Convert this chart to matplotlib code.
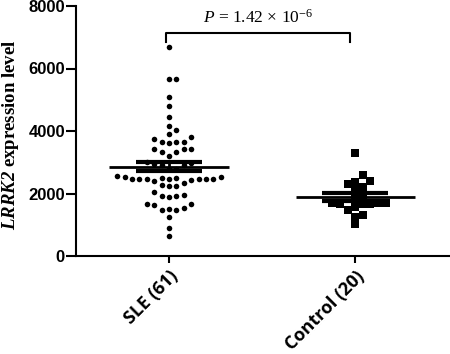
import numpy as np
import matplotlib
matplotlib.use("Agg")
import matplotlib.pyplot as plt

# LRRK2 expression values
sle = [6700, 5650, 5650, 5100, 4800, 4450, 4170, 4030, 3900, 3800, 3760,
       3660, 3640, 3610, 3650, 3410, 3320, 3410, 3340, 3410, 3200,
       3000, 2980, 2950, 2920, 2900, 2800, 2780,
       2560, 2520, 2500, 2480, 2470, 2460, 2460, 2460, 2470, 2480, 2500, 2540, 2420, 2400,
       2330, 2250, 2260, 2240, 2060, 1920, 1900, 1920, 1950,
       1650, 1490, 1470, 1630, 1470, 1660, 1550, 1240, 890, 640]
ctrl = [3300, 2590, 2410, 2290, 2380, 2220, 2110, 1950, 1850, 1700,
        1690, 1680, 1660, 1680, 1700, 1580, 1470, 1300, 1250, 1010]
groups = ["SLE (61)", "Control (20)"]
yticks = [0, 2000, 4000, 6000, 8000]
p_text = r"$P$ = 1.42 × 10$^{-6}$"

plt.rcParams.update({"mathtext.fontset": "custom",
                     "mathtext.rm": "Liberation Serif",
                     "mathtext.it": "Liberation Serif:italic",
                     "mathtext.bfit": "Liberation Serif:italic:bold",
                     "mathtext.bf": "Liberation Serif:bold"})

fig = plt.figure(figsize=(4.5, 3.54), dpi=100)
ax = fig.add_axes([76 / 450, 98 / 354, 374 / 450, 250 / 354])
ax.set_xlim(0.5, 2.51)
ax.set_ylim(0, 8000)


def swarm(vals, pos, gap):
    """simple beeswarm in pixel space -> x data coords"""
    vals = np.asarray(vals, float)
    pts = ax.transData.transform(np.column_stack([np.full(len(vals), pos), vals]))
    cands = [0.0]
    for k in range(1, 30):
        cands += [k * gap, -k * gap]
    placed, out = [], np.zeros(len(vals))
    for i in np.argsort(vals):
        x0, y0 = pts[i]
        for off in cands:
            if all((x0 + off - px) ** 2 + (y0 - py) ** 2 >= gap ** 2 * 0.95 for px, py in placed):
                break
        placed.append((x0 + off, y0))
        out[i] = ax.transData.inverted().transform((x0 + off, y0))[0]
    return out


for pos, vals, mk, s, gap in [(1, sle, "o", 16, 7.4), (2, ctrl, "s", 26, 7.6)]:
    xs = swarm(vals, pos, gap)
    ax.scatter(xs, vals, marker=mk, s=s, color="black", linewidths=0, zorder=2)
    m = np.mean(vals)
    sem = np.std(vals, ddof=1) / np.sqrt(len(vals))
    ax.hlines(m, pos - 0.32, pos + 0.32, color="black", lw=2, zorder=3)
    ax.errorbar(pos, m, yerr=sem, color="black", lw=2, capsize=24, capthick=3, zorder=3)

# significance bracket
ax.plot([0.985, 0.985, 1.97, 1.97], [6850, 7140, 7140, 6850], color="black", lw=1.5, clip_on=False)
ax.text(1.48, 7330, p_text, ha="center", va="bottom", fontsize=12.5, family="Liberation Serif")

ax.set_xticks([1, 2])
ax.set_xticklabels(groups, rotation=45, ha="right", rotation_mode="anchor",
                   fontsize=13, fontweight="bold", family="Open Sans")
ax.set_yticks(yticks)
ax.set_yticklabels([str(t) for t in yticks], fontsize=12, fontweight="bold", family="Liberation Sans")
ax.tick_params(axis="y", length=7, width=1.5, pad=1)
ax.tick_params(axis="x", length=5, width=1.5, pad=3)
ax.spines[["top", "right"]].set_visible(False)
ax.spines[["left", "bottom"]].set_linewidth(1.5)
ax.set_ylabel(r"$\mathbfit{LRRK2}$ expression level", fontsize=13.5,
              fontweight="bold", family="Liberation Serif")
ax.yaxis.set_label_coords(-0.148, 0.485)

fig.savefig("out.png", dpi=100, facecolor="white")
